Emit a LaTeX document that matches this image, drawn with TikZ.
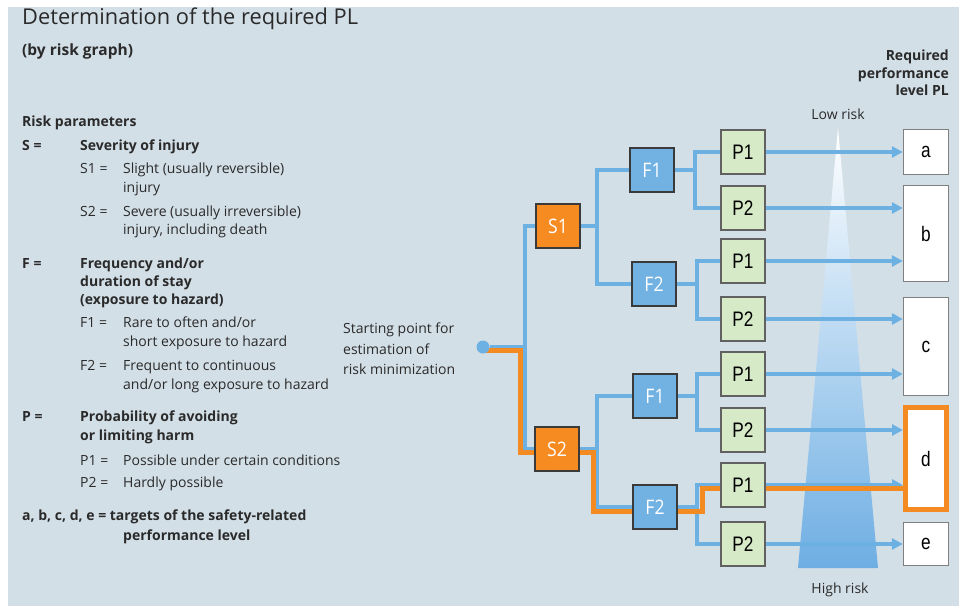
\documentclass[tikz,border=0pt]{standalone}
\usepackage{fontspec}
\setmainfont{Open Sans}
\newfontfamily\boxsans[FakeStretch=0.88]{Open Sans}
\newfontfamily\boxarial[FakeStretch=0.82]{Liberation Sans}
\usetikzlibrary{arrows.meta,backgrounds}

\definecolor{panel}{HTML}{D3DFE7}
\definecolor{ink}{HTML}{2A2A2A}
\definecolor{linkblue}{HTML}{6DB0E2}
\definecolor{pathorange}{HTML}{F48A22}
\definecolor{sorange}{HTML}{F68B22}
\definecolor{fblue}{HTML}{72B2E3}
\definecolor{pgreen}{HTML}{D7EAC8}
\definecolor{boxline}{HTML}{3A3A3A}
\definecolor{beamblue}{HTML}{6EAEE3}

\begin{document}
\begin{tikzpicture}
            [x=1pt, y=-1pt,
             every node/.style={inner sep=0pt},
             txt/.style={anchor=mid west, text=ink, font=\fontsize{14}{18.5}\selectfont},
             btxt/.style={txt, font=\fontsize{14}{18.5}\selectfont\bfseries},
             sbox/.style={minimum size=44pt, fill=sorange, draw=boxline, line width=1.3pt, text=white, font=\boxsans\fontsize{20}{20}\selectfont},
             fbox/.style={sbox, fill=fblue},
             pbox/.style={minimum size=44pt, fill=pgreen, draw=boxline!80, line width=1.3pt, text=black, font=\boxarial\fontsize{21}{21}\selectfont},
             lbox/.style={minimum width=45pt, fill=white, draw=gray, line width=1.2pt, text=black, font=\boxarial\fontsize{21}{21}\selectfont},
             bline/.style={line width=3.5pt, color=linkblue},
             barrow/.style={bline, -{Triangle[length=11pt,width=11pt]}},
             oline/.style={line width=5pt, color=pathorange}]
                \useasboundingbox (0,0) rectangle (959,606);
                \begin{scope}[on background layer]
                    \fill[panel] (8,7) rectangle (959,606);
                    \shade[top color=white, middle color=beamblue!55, bottom color=beamblue] (838,128) -- (878,568) -- (798,568) -- cycle;
                \end{scope}

                % left column: risk parameters
                \node (title) [txt, font=\fontsize{21.8}{24}\selectfont] at (22,22) {Determination of the required PL};
                \node (sub) [btxt, font=\fontsize{15.5}{18}\selectfont\bfseries] at (22,53) {(by risk graph)};
                \node (t1) [btxt] at (22,124) {Risk parameters};
                \node (t2) [btxt] at (22,148) {S =};
                \node (t3) [btxt] at (80,148) {Severity of injury};
                \node (t4) [txt] at (80,171) {S1 =};
                \node (t5) [txt] at (123,171) {Slight (usually reversible)};
                \node (t6) [txt] at (123,190) {injury};
                \node (t7) [txt] at (80,214) {S2 =};
                \node (t8) [txt] at (123,214) {Severe (usually irreversible)};
                \node (t9) [txt] at (123,232) {injury, including death};
                \node (t10) [btxt] at (22,266) {F =};
                \node (t11) [btxt] at (80,266) {Frequency and/or};
                \node (t12) [btxt] at (80,284) {duration of stay};
                \node (t13) [btxt] at (80,302) {(exposure to hazard)};
                \node (t14) [txt] at (80,325) {F1 =};
                \node (t15) [txt] at (123,325) {Rare to often and/or};
                \node (t16) [txt] at (123,344) {short exposure to hazard};
                \node (t17) [txt] at (80,368) {F2 =};
                \node (t18) [txt] at (123,368) {Frequent to continuous};
                \node (t19) [txt] at (123,387) {and/or long exposure to hazard};
                \node (t20) [btxt] at (22,419) {P =};
                \node (t21) [btxt] at (80,419) {Probability of avoiding};
                \node (t22) [btxt] at (80,438) {or limiting harm};
                \node (t23) [txt] at (80,463) {P1 =};
                \node (t24) [txt] at (123,463) {Possible under certain conditions};
                \node (t25) [txt] at (80,485) {P2 =};
                \node (t26) [txt] at (123,485) {Hardly possible};
                \node (t27) [btxt] at (22,518) {a, b, c, d, e = targets of the safety-related};
                \node (t28) [btxt] at (123,538) {performance level};
                \node (start) [txt, anchor=west, align=left, font=\fontsize{14}{20.5}\selectfont] at (343,349) {Starting point for\\estimation of\\risk minimization};
                \node (req) [btxt, anchor=east, align=right, font=\fontsize{14}{17.5}\selectfont\bfseries] at (949,73) {Required\\performance\\level PL};
                \node (low) [txt, anchor=mid] at (838,117) {Low risk};
                \node (high) [txt, anchor=mid] at (840,591) {High risk};

                % risk graph
                \node (1) [circle, minimum size=13pt, fill=linkblue] at (483,347) {};
                \node (2) [sbox] at (558,226) {S1};
                \node (3) [sbox] at (557,449) {S2};
                \node (4) [fbox] at (652,170) {F1};
                \node (5) [fbox] at (654,284) {F2};
                \node (6) [fbox] at (655,396) {F1};
                \node (7) [fbox] at (655,507) {F2};
                \node (8) [pbox] at (743,152) {P1};
                \node (9) [pbox] at (743,208) {P2};
                \node (10) [pbox] at (743,261) {P1};
                \node (11) [pbox] at (743,319) {P2};
                \node (12) [pbox] at (743,374) {P1};
                \node (13) [pbox] at (743,430) {P2};
                \node (14) [pbox] at (743,485) {P1};
                \node (15) [pbox] at (743,544) {P2};
                \node (a) [lbox, minimum height=45pt] at (926,152) {a};
                \node (b) [lbox, minimum height=96pt] at (926,233.5) {b};
                \node (c) [lbox, minimum height=98pt] at (926,346.5) {c};
                \node (d) [lbox, minimum width=41pt, minimum height=102pt, draw=pathorange, line width=5pt] at (926,458.5) {d};
                \node (e) [lbox, minimum height=43pt] at (926,544) {e};

                \coordinate (j1) at (525,347);
                \coordinate (j2) at (597,226);
                \coordinate (j3) at (597,449);
                \coordinate (j4) at (695,170);
                \coordinate (j5) at (697,284);
                \coordinate (j6) at (697,396);
                \coordinate (j7) at (697,507);
                \coordinate (o1) at (520,350);
                \coordinate (o2) at (520,452);
                \coordinate (o3) at (593,452);
                \coordinate (o4) at (593,511);
                \coordinate (o5) at (702,511);
                \coordinate (o6) at (702,488);

                \begin{scope}[on background layer]
                    \draw [bline] (1) -- (j1);
                    \draw [bline] (2) -| (j1) |- (3);
                    \draw [bline] (2) -- (j2);
                    \draw [bline] (4) -| (j2) |- (5);
                    \draw [bline] (3) -- (j3);
                    \draw [bline] (6) -| (j3) |- (7);
                    \draw [bline] (4) -- (j4);
                    \draw [bline] (8) -| (j4) |- (9);
                    \draw [bline] (5) -- (j5);
                    \draw [bline] (10) -| (j5) |- (11);
                    \draw [bline] (6) -- (j6);
                    \draw [bline] (12) -| (j6) |- (13);
                    \draw [bline] (7) -- (j7);
                    \draw [bline] (14) -| (j7) |- (15);
                    \draw [barrow] (8) -- (8 -| a.west);
                    \draw [barrow] (9) -- (9 -| b.west);
                    \draw [barrow] (10) -- (10 -| b.west);
                    \draw [barrow] (11) -- (11 -| c.west);
                    \draw [barrow] (12) -- (12 -| c.west);
                    \draw [barrow] (13) -- (13 -| d.west);
                    \draw [barrow] (14) -- (14 -| d.west);
                    \draw [barrow] (15) -- (15 -| e.west);
                    % highlighted path
                    \draw [oline] ([yshift=-3pt]1.center) -- (o1) -- (o2) -- (o2 -| 3.west);
                    \draw [oline] (o2 -| 3.east) -- (o3) -- (o4) -- (o4 -| 7.west);
                    \draw [oline] (o4 -| 7.east) -- (o5) -- (o6) -- (o6 -| d.west);
                \end{scope}
            \end{tikzpicture}
\end{document}
